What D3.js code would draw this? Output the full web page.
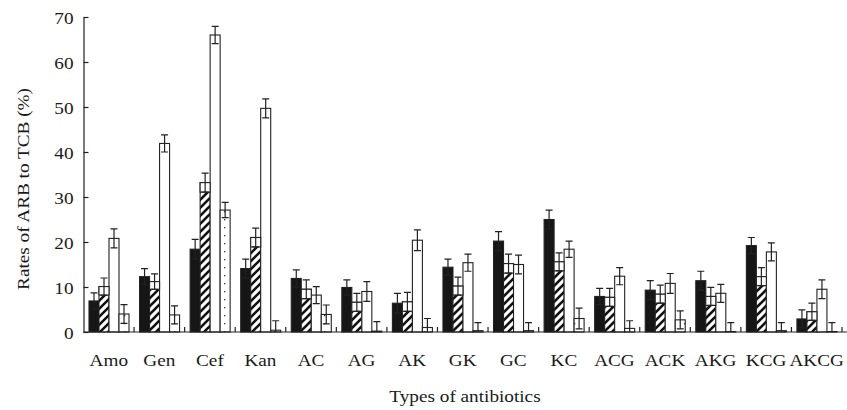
<!DOCTYPE html>
<html>
<head>
<meta charset="utf-8">
<script src="https://cdn.jsdelivr.net/npm/d3@7"></script>
<style>
  body { margin: 0; background: #fff; }
  text { font-family: "Liberation Serif", "Times New Roman", serif; fill: #1a1a1a; }
</style>
</head>
<body>
<script>
// Data (% of ARB to TCB)
const categories = ['Amo', 'Gen', 'Cef', 'Kan', 'AC', 'AG', 'AK', 'GK', 'GC', 'KC', 'ACG', 'ACK', 'AKG', 'KCG', 'AKCG'];
const seriesNames = ['solid', 'hatched', 'open', 'dotted'];
const solidValues   = [6.9, 12.3, 18.4, 14.1, 11.9, 9.9, 6.4, 14.4, 20.2, 25.0, 7.9, 9.3, 11.4, 19.2, 2.9];
const solidErrors   = [1.8, 1.8, 2.2, 2.1, 1.9, 1.7, 2.2, 1.8, 2.1, 2.1, 1.8, 2.1, 2.1, 1.8, 2.0];
const hatchedValues = [10.1, 11.2, 33.2, 21.0, 9.5, 6.6, 6.7, 10.2, 15.2, 15.6, 7.7, 8.4, 7.9, 12.3, 4.5];
const hatchedErrors = [1.9, 1.7, 2.1, 2.1, 2.1, 2.0, 2.1, 2.0, 2.1, 2.0, 2.0, 2.0, 2.0, 2.0, 1.9];
const openValues    = [20.8, 41.9, 66.0, 49.7, 8.2, 9.0, 20.4, 15.4, 15.0, 18.4, 12.4, 10.8, 8.6, 17.8, 9.5];
const openErrors    = [2.1, 1.9, 1.9, 2.1, 1.9, 2.2, 2.3, 1.9, 2.1, 1.8, 1.9, 2.2, 2.0, 2.0, 2.1];
const dottedValues  = [4.0, 3.8, 27.1, 0.4, 3.9, 0.2, 1.0, 0.3, 0.3, 3.0, 0.8, 2.7, 0.1, 0.3, 0.1];
const dottedErrors  = [2.1, 2.0, 1.7, 2.1, 2.1, 2.1, 2.0, 1.8, 1.8, 2.3, 1.7, 2.0, 2.0, 1.8, 2.0];
const yTicks = [0, 10, 20, 30, 40, 50, 60, 70];
const yTitle = 'Rates of ARB to TCB (%)';
const xTitle = 'Types of antibiotics';

const values = [solidValues, hatchedValues, openValues, dottedValues];
const errors = [solidErrors, hatchedErrors, openErrors, dottedErrors];

// flat table built from the arrays
const rows = [];
categories.forEach((c, i) => {
  seriesNames.forEach((s, j) => {
    rows.push({cat: c, series: s, value: values[j][i], err: errors[j][i]});
  });
});

const W = 847, H = 410;
const svg = d3.select('body').append('svg').attr('width', W).attr('height', H);

// patterns
const defs = svg.append('defs');
const hatch = defs.append('pattern').attr('id', 'hatch')
  .attr('patternUnits', 'userSpaceOnUse').attr('width', 8).attr('height', 8);
hatch.append('rect').attr('width', 8).attr('height', 8).attr('fill', '#fff');
hatch.append('path').attr('d', 'M-2,10 L10,-2 M-2,2 L2,-2 M6,10 L10,6')
  .attr('stroke', '#111').attr('stroke-width', 2.6);
const dots = defs.append('pattern').attr('id', 'dots')
  .attr('patternUnits', 'userSpaceOnUse').attr('width', 10).attr('height', 8);
dots.append('rect').attr('width', 10).attr('height', 8).attr('fill', '#fff');
dots.append('rect').attr('x', 4).attr('y', 3).attr('width', 1.3).attr('height', 1.3).attr('fill', '#333');

const fills = {solid: '#161616', hatched: 'url(#hatch)', open: '#fff', dotted: 'url(#dots)'};

// scales
const x = d3.scaleBand().domain(categories).range([83.5, 842]).paddingInner(0).paddingOuter(0);
const xs = d3.scaleBand().domain(seriesNames).range([5.5, 45.5]);
const y = d3.scaleLinear().domain([0, 70]).range([332, 17]);

const FS = 17, STRETCH = 1.13;
function stretch(sel) {
  sel.each(function() {
    const len = this.getComputedTextLength();
    d3.select(this).attr('textLength', len * STRETCH).attr('lengthAdjust', 'spacingAndGlyphs');
  });
}

// bars
const bx = d => x(d.cat) + xs(d.series);
svg.append('g').selectAll('rect').data(rows).join('rect')
  .attr('x', bx)
  .attr('width', xs.bandwidth())
  .attr('y', d => y(d.value))
  .attr('height', d => y(0) - y(d.value))
  .attr('fill', d => fills[d.series])
  .attr('stroke', '#222').attr('stroke-width', 1.1);

// white box below the top of hatched bars (where the error bar sits)
svg.append('g').selectAll('rect').data(rows.filter(d => d.series === 'hatched')).join('rect')
  .attr('x', bx)
  .attr('width', xs.bandwidth())
  .attr('y', d => y(d.value))
  .attr('height', d => y(Math.max(0, d.value - d.err)) - y(d.value))
  .attr('fill', '#fff')
  .attr('stroke', '#222').attr('stroke-width', 1.1);

// error bars
const eg = svg.append('g').attr('stroke', '#222').attr('stroke-width', 1.2).attr('fill', 'none');
const cx = d => bx(d) + xs.bandwidth() / 2;
eg.selectAll('path').data(rows).join('path')
  .attr('d', d => {
    const c = cx(d), top = y(d.value + d.err), lo = d.value - d.err;
    let p = `M${c - 3.5},${top}H${c + 3.5}M${c},${top}V${y(Math.max(0, lo))}`;
    if (lo > 0) p += `M${c - 3.5},${y(lo)}H${c + 3.5}`;
    return p;
  });

// axes
const yAxis = d3.axisLeft(y).tickValues(yTicks).tickSizeInner(-5).tickSizeOuter(0).tickPadding(10);
const gy = svg.append('g').attr('transform', 'translate(83.5,0)').call(yAxis);
gy.select('.domain').attr('stroke', '#222').attr('stroke-width', 1.2);
gy.selectAll('.tick line').attr('stroke', '#222').attr('stroke-width', 1.2);
gy.selectAll('.tick text').attr('font-size', FS).attr('dy', '0.4em').attr('fill', '#1a1a1a')
  .attr('font-family', '"Liberation Serif", serif').call(stretch);

const gx = svg.append('g').attr('transform', 'translate(0,332)');
gx.append('line').attr('x1', 83.5).attr('x2', 847).attr('stroke', '#222').attr('stroke-width', 1.2);
gx.selectAll('line.tk').data(categories).join('line').attr('class', 'tk')
  .attr('x1', d => x(d) + x.bandwidth()).attr('x2', d => x(d) + x.bandwidth())
  .attr('y1', 0).attr('y2', -5).attr('stroke', '#222').attr('stroke-width', 1.2);
gx.selectAll('text').data(categories).join('text')
  .attr('x', d => x(d) + x.bandwidth() / 2)
  .attr('y', 34)
  .attr('text-anchor', 'middle')
  .attr('font-size', FS)
  .text(d => d)
  .call(stretch);

// titles
svg.append('text').attr('x', 465).attr('y', 402).attr('text-anchor', 'middle')
  .attr('font-size', FS).text(xTitle).call(stretch);
svg.append('text').attr('transform', 'translate(29,189) rotate(-90)')
  .attr('text-anchor', 'middle').attr('font-size', FS).text(yTitle).call(stretch);
</script>
</body>
</html>
